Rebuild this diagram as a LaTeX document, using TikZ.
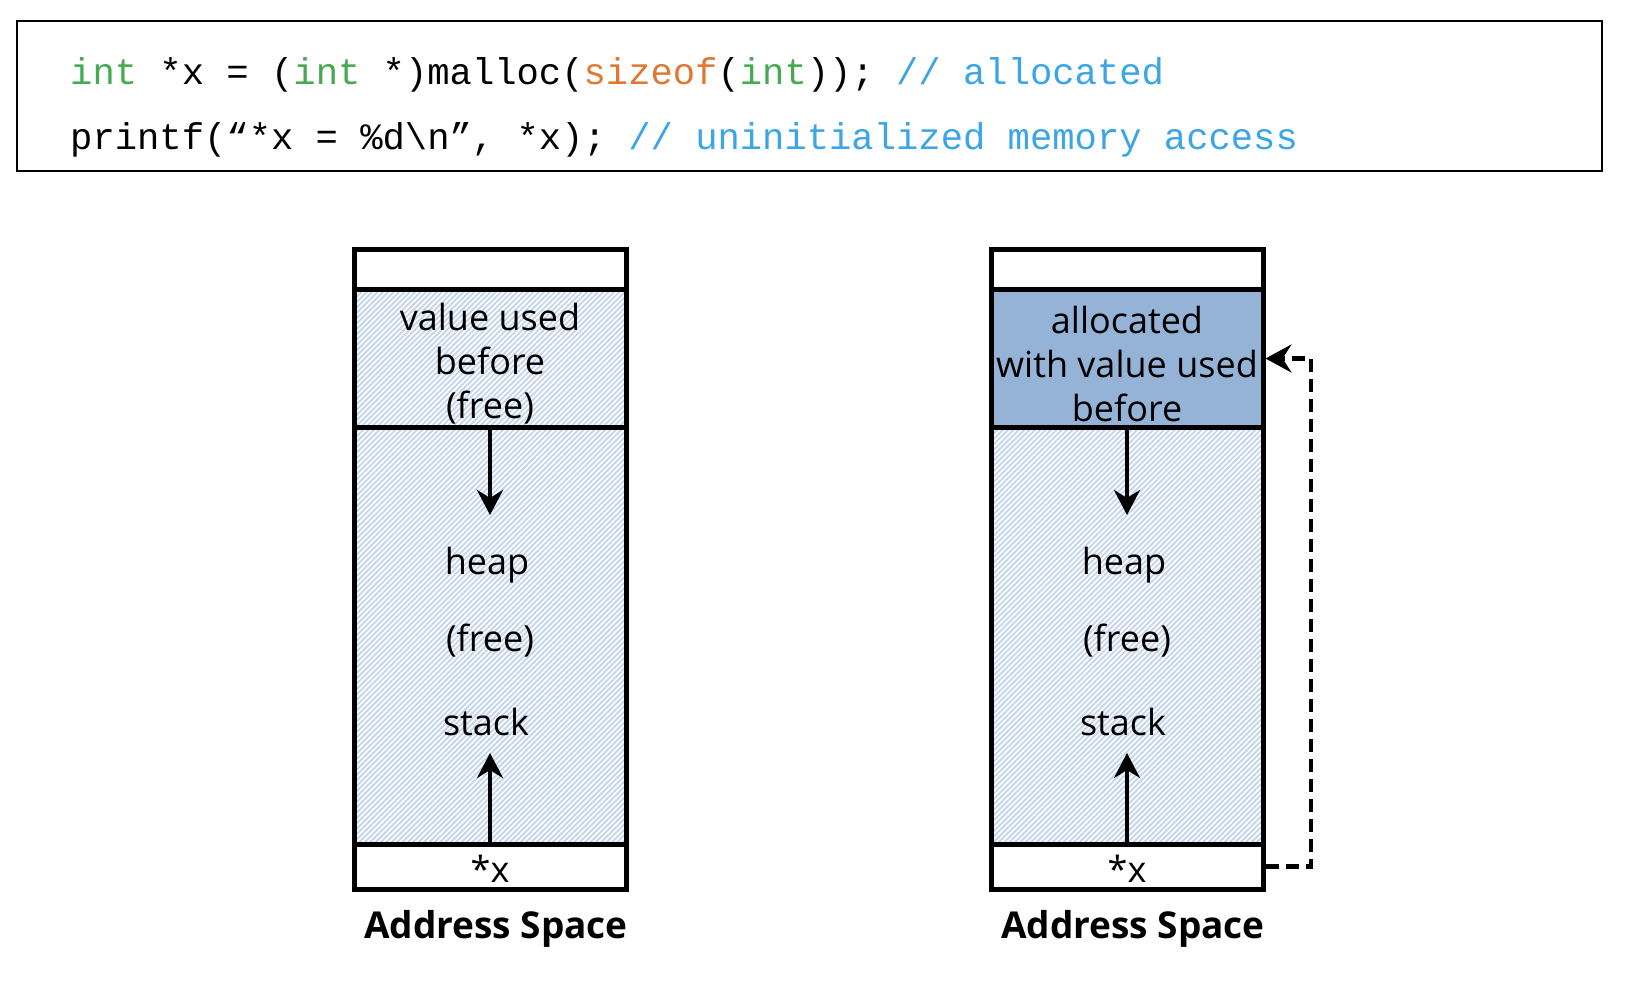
\documentclass[tikz,border=0pt]{standalone}
\usepackage{fontspec}
\setmainfont{Open Sans}
\newfontfamily\codefont{Liberation Mono}
\usetikzlibrary{arrows.meta,patterns.meta}
\definecolor{kwgreen}{RGB}{70,170,80}
\definecolor{kworange}{RGB}{222,120,50}
\definecolor{cmblue}{RGB}{60,165,230}
\definecolor{allocfill}{RGB}{149,179,215}
\definecolor{hatchcol}{RGB}{196,213,238}
\tikzset{
  codebox/.style={draw=black, line width=2pt, rectangle, inner sep=0pt, minimum width=1585pt, minimum height=150pt},
  codeline/.style={anchor=west, inner sep=0pt, font=\codefont\fontsize{37.2}{40}\selectfont},
  cell/.style={draw=black, line width=5pt, rectangle, inner sep=0pt, minimum width=272pt, fill=white},
  hcell/.style={draw=black, line width=5pt, rectangle, inner sep=0pt, minimum width=272pt,
    pattern={Lines[angle=45,distance=3.8pt,line width=1.9pt]}, pattern color=hatchcol},
  lbl/.style={inner sep=0pt, align=center, font=\fontsize{36}{44}\selectfont},
  title/.style={inner sep=0pt, font=\bfseries\fontsize{37}{40}\selectfont},
  arr/.style={line width=4.3pt, -{Stealth[length=25pt,width=26pt,inset=8pt]}},
  dasharr/.style={line width=4.3pt, dash pattern=on 13pt off 7pt, -{Stealth[length=26pt,width=28pt,inset=9pt]}}
}
\begin{document}
\begin{tikzpicture}[x=1pt,y=-1pt]
\useasboundingbox (0,0) rectangle (1626,992);
\fill[white] (0,0) rectangle (1626,992);
% code box
\node[codebox] (code) at (809.5,96) {};
\node[codeline] (l1) at (70,75) {\textcolor{kwgreen}{int} *x = (\textcolor{kwgreen}{int} *)malloc(\textcolor{kworange}{sizeof}(\textcolor{kwgreen}{int})); \textcolor{cmblue}{// allocated}};
\node[codeline] (l2) at (70,140) {printf(“*x = \%d\textbackslash n”, *x); \textcolor{cmblue}{// uninitialized memory access}};
% left column
\node[cell, minimum height=40pt] (Ltop) at (490,270) {};
\node[hcell, minimum height=137pt] (Lval) at (490,358.5) {};
\node[hcell, minimum height=417pt] (Lheap) at (490,635.5) {};
\node[cell, minimum height=45pt] (Lx) at (490,866.5) {};
\node[lbl] (Lvaltxt) at (490,364) {value used\\before\\(free)};
\node[lbl] (Lheaptxt) at (487,565) {heap};
\node[lbl] (Lfree) at (490,641) {(free)};
\node[lbl] (Lstack) at (486,722) {stack};
\node[lbl] (Lxtxt) at (490,869) {*x};
\node[title] (Ltitle) at (496,929) {Address Space};
\coordinate (Ldn) at (490,515);
\coordinate (Lup) at (490,753);
\draw[arr] (Lheap.north) -- (Ldn);
\draw[arr] (Lheap.south) -- (Lup);
% right column
\node[cell, minimum height=40pt] (Rtop) at (1127,270) {};
\node[cell, minimum height=137pt, fill=allocfill] (Rval) at (1127,358.5) {};
\node[hcell, minimum height=417pt] (Rheap) at (1127,635.5) {};
\node[cell, minimum height=45pt] (Rx) at (1127,866.5) {};
\node[lbl] (Rvaltxt) at (1127,364) {allocated\\with value used\\before};
\node[lbl] (Rheaptxt) at (1124,565) {heap};
\node[lbl] (Rfree) at (1127,641) {(free)};
\node[lbl] (Rstack) at (1123,722) {stack};
\node[lbl] (Rxtxt) at (1127,869) {*x};
\node[title] (Rtitle) at (1133,929) {Address Space};
\coordinate (Rdn) at (1127,515);
\coordinate (Rup) at (1127,753);
\draw[arr] (Rheap.north) -- (Rdn);
\draw[arr] (Rheap.south) -- (Rup);
\coordinate (Rdash) at (1311,600);
\draw[dasharr] (Rx.east) -| (Rdash) |- (Rval.east);
\end{tikzpicture}
\end{document}
